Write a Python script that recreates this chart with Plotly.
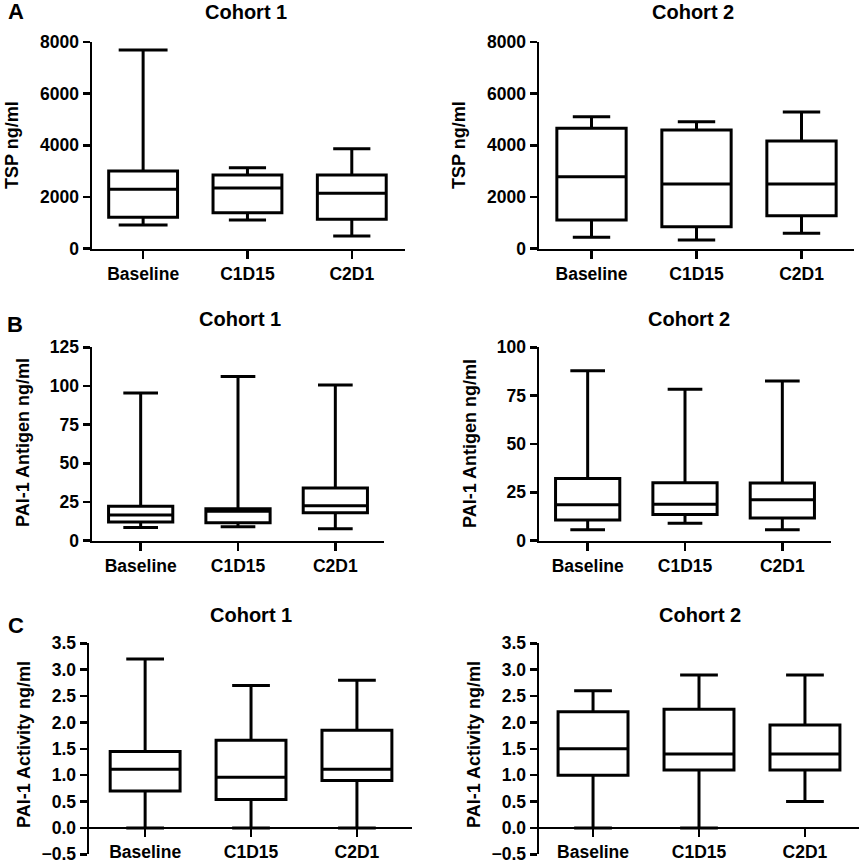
import plotly.graph_objects as go

# ---------------- data ----------------
categories = ["Baseline", "C1D15", "C2D1"]

# Panel A: TSP ng/ml
tsp_c1_lower = [917, 1111, 491]
tsp_c1_q1 = [1215, 1393, 1138]
tsp_c1_median = [2299, 2349, 2144]
tsp_c1_q3 = [3007, 2853, 2853]
tsp_c1_upper = [7690, 3135, 3870]

tsp_c2_lower = [441, 337, 596]
tsp_c2_q1 = [1111, 851, 1277]
tsp_c2_median = [2787, 2504, 2504]
tsp_c2_q3 = [4660, 4594, 4168]
tsp_c2_upper = [5109, 4915, 5291]

# Panel B: PAI-1 Antigen ng/ml
ag_c1_lower = [8.6, 9.0, 7.8]
ag_c1_q1 = [12.1, 11.6, 18.1]
ag_c1_median = [16.6, 19.0, 22.6]
ag_c1_q3 = [22.2, 20.7, 34.1]
ag_c1_upper = [95.5, 106.2, 100.6]

ag_c2_lower = [5.7, 9.0, 5.7]
ag_c2_q1 = [10.7, 13.6, 11.7]
ag_c2_median = [18.6, 18.8, 21.2]
ag_c2_q3 = [32.2, 30.0, 29.8]
ag_c2_upper = [87.9, 78.3, 82.6]

# Panel C: PAI-1 Activity ng/ml
act_c1_lower = [0.0, 0.0, 0.0]
act_c1_q1 = [0.70, 0.54, 0.90]
act_c1_median = [1.11, 0.96, 1.11]
act_c1_q3 = [1.45, 1.66, 1.85]
act_c1_upper = [3.20, 2.70, 2.80]

act_c2_lower = [0.0, 0.0, 0.50]
act_c2_q1 = [1.00, 1.10, 1.10]
act_c2_median = [1.50, 1.40, 1.40]
act_c2_q3 = [2.20, 2.25, 1.95]
act_c2_upper = [2.60, 2.90, 2.90]

panel_titles = ["Cohort 1", "Cohort 2", "Cohort 1", "Cohort 2", "Cohort 1", "Cohort 2"]
y_titles = ["TSP ng/ml", "TSP ng/ml", "PAI-1 Antigen ng/ml", "PAI-1 Antigen ng/ml",
            "PAI-1 Activity ng/ml", "PAI-1 Activity ng/ml"]
panel_letters = ["A", "B", "C"]

panels_data = [
    (tsp_c1_lower, tsp_c1_q1, tsp_c1_median, tsp_c1_q3, tsp_c1_upper),
    (tsp_c2_lower, tsp_c2_q1, tsp_c2_median, tsp_c2_q3, tsp_c2_upper),
    (ag_c1_lower, ag_c1_q1, ag_c1_median, ag_c1_q3, ag_c1_upper),
    (ag_c2_lower, ag_c2_q1, ag_c2_median, ag_c2_q3, ag_c2_upper),
    (act_c1_lower, act_c1_q1, act_c1_median, act_c1_q3, act_c1_upper),
    (act_c2_lower, act_c2_q1, act_c2_median, act_c2_q3, act_c2_upper),
]

# ---------------- layout geometry (pixels) ----------------
W, H = 862, 864
x_px = [(92, 405), (539, 854), (92, 384), (539, 831), (89, 412), (539, 859)]
x_ranges = [(-0.49, 2.51), (-0.5, 2.5), (-0.5, 2.5), (-0.5, 2.5), (-0.53, 2.52), (-0.51, 2.51)]
y_px = [(42, 248.7), (42, 248.7), (347.3, 540.7), (347.3, 540.7), (643.3, 854.3), (643.3, 854.3)]
y_ranges = [(0, 8000), (0, 8000), (0, 125), (0, 100), (-0.5, 3.5), (-0.5, 3.5)]
y_dticks = [2000, 2000, 25, 25, 0.5, 0.5]
y_formats = ["d", "d", "d", "d", ".1f", ".1f"]

title_pos = [(245.5, 12), (693, 12), (240, 319), (689, 319), (251, 615), (700, 615)]
ytitle_pos = [(12, 145), (459, 145), (23, 443), (470, 443), (24, 745), (474, 745)]
letter_pos = [(16, 12), (15, 324), (16, 625)]

FONT = "Liberation Sans, Arial, Helvetica, sans-serif"
TICK_SIZE = 17.5

def px2x(p):
    return p / W

def px2y(p):
    return 1 - p / H

fig = go.Figure()
layout = dict(
    width=W, height=H,
    margin=dict(l=0, r=0, t=0, b=0, pad=0),
    paper_bgcolor="white", plot_bgcolor="white",
    showlegend=False,
    font=dict(family=FONT, color="black", size=17, weight="bold"),
)

annotations = []
for i, (lo, q1, med, q3, up) in enumerate(panels_data):
    n = i + 1
    xa = "x" if n == 1 else f"x{n}"
    ya = "y" if n == 1 else f"y{n}"
    for j, cat in enumerate(categories):
        ww = 0.71 if (i == 0 and j == 0) else 0.54
        fig.add_trace(go.Box(
            x=[cat], q1=[q1[j]], median=[med[j]], q3=[q3[j]],
            lowerfence=[lo[j]], upperfence=[up[j]],
            width=0.66, whiskerwidth=ww,
            line=dict(color="black", width=3),
            fillcolor="white", boxpoints=False,
            xaxis=xa, yaxis=ya, hoverinfo="skip",
        ))
    yd = (px2y(y_px[i][1]), px2y(y_px[i][0]))
    xkey = "xaxis" if n == 1 else f"xaxis{n}"
    ykey = "yaxis" if n == 1 else f"yaxis{n}"
    xaxis = dict(
        domain=[px2x(x_px[i][0]), px2x(x_px[i][1])],
        type="category", categoryorder="array", categoryarray=categories,
        range=list(x_ranges[i]), automargin=False, ticklabeloverflow="allow",
        showline=True, linecolor="black", linewidth=2.5,
        ticks="outside", ticklen=8, tickwidth=2.5, tickcolor="black",
        showgrid=False, zeroline=False,
        tickfont=dict(family=FONT, size=TICK_SIZE, color="black", weight="bold"),
        fixedrange=True,
    )
    if i >= 4:
        r0, r1 = y_ranges[i]
        frac = (0 - r0) / (r1 - r0)
        xaxis.update(anchor="free", position=yd[0] + frac * (yd[1] - yd[0]))
    else:
        xaxis.update(anchor=ya)
    yaxis = dict(
        domain=list(yd), anchor=xa, automargin=False, ticklabeloverflow="allow",
        range=list(y_ranges[i]), dtick=y_dticks[i], tick0=0, tickformat=y_formats[i],
        showline=True, linecolor="black", linewidth=2.5,
        ticks="outside", ticklen=7, tickwidth=2.5, tickcolor="black",
        showgrid=False, zeroline=False,
        tickfont=dict(family=FONT, size=TICK_SIZE, color="black", weight="bold"),
        fixedrange=True,
    )
    layout[xkey] = xaxis
    layout[ykey] = yaxis

    tx, ty = title_pos[i]
    annotations.append(dict(
        text=panel_titles[i], x=px2x(tx), y=px2y(ty), xref="paper", yref="paper",
        xanchor="center", yanchor="middle", showarrow=False,
        font=dict(family=FONT, size=20, color="black", weight="bold"),
    ))
    ax, ay = ytitle_pos[i]
    annotations.append(dict(
        text=y_titles[i], x=px2x(ax), y=px2y(ay), xref="paper", yref="paper",
        xanchor="center", yanchor="middle", showarrow=False, textangle=-90,
        font=dict(family=FONT, size=18, color="black", weight="bold"),
    ))

for k, letter in enumerate(panel_letters):
    lx, ly = letter_pos[k]
    annotations.append(dict(
        text=letter, x=px2x(lx), y=px2y(ly), xref="paper", yref="paper",
        xanchor="center", yanchor="middle", showarrow=False,
        font=dict(family=FONT, size=22, color="black", weight="bold"),
    ))

layout["annotations"] = annotations
fig.update_layout(**layout)

post_js = (
    "document.documentElement.style.margin='0';"
    "document.documentElement.style.overflow='hidden';"
    "document.body.style.margin='0';"
    "document.body.style.overflow='hidden';"
    "var gd=document.querySelector('.plotly-graph-div');"
    "if(gd){gd.style.position='fixed';gd.style.left='0px';gd.style.top='0px';}"
)
fig.write_html("out.html", config={"displayModeBar": False, "staticPlot": True},
               post_script=post_js)
